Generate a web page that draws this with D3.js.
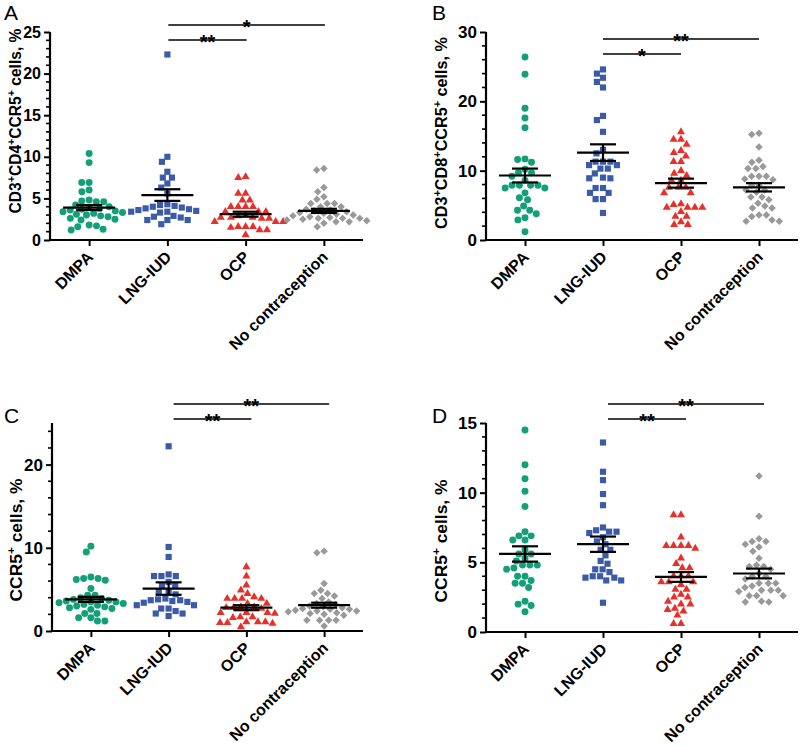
<!DOCTYPE html>
<html><head><meta charset="utf-8">
<script src="https://cdn.jsdelivr.net/npm/d3@7"></script>
<style>body{margin:0;background:#fff} text{font-family:"Liberation Sans",Arial,sans-serif}</style>
</head><body><svg id="c" width="800" height="746"></svg>
<script>
const categories = ["DMPA","LNG-IUD","OCP","No contraception"];
const colors = ["#13a079","#3b5aa8","#e8302a","#999999"];

// Panel A: CD3+CD4+CCR5+ cells, %
const valuesA = [
  [10.4,9.3,6.9,6.9,6.0,5.8,4.8,4.7,4.6,4.6,4.2,4.0,3.9,3.8,3.7,3.6,3.5,3.4,3.3,3.2,3.1,3.0,2.9,2.8,2.6,2.5,2.4,1.8,1.7,1.6,1.3,1.2],
  [22.3,10.0,9.4,8.2,7.5,7.5,6.8,6.3,5.6,4.3,4.2,4.1,4.0,3.9,3.8,3.7,3.6,3.5,3.4,3.4,3.3,2.9,2.8,2.7,2.4,2.4,2.4,1.9],
  [7.6,7.5,5.6,5.6,4.8,4.8,4.0,4.0,4.0,4.0,3.4,3.4,3.4,3.0,2.9,2.7,2.7,2.7,2.6,2.6,2.2,2.2,2.2,1.6,1.6,1.6,1.5,1.2,1.2,0.6],
  [8.6,8.4,6.3,5.8,5.2,4.9,4.4,4.4,4.4,4.0,4.0,3.7,3.6,3.5,3.4,3.3,3.2,3.1,3.0,2.9,2.8,2.7,2.6,2.6,2.6,2.5,2.4,2.3,2.2,2.2,2.0,1.6]
];
const meanA = [3.9,5.4,3.1,3.5];
const semA = [0.3,0.7,0.3,0.25];
const ticksA = [0,5,10,15,20,25];

// Panel B: CD3+CD8+CCR5+ cells, %
const valuesB = [
  [26.4,23.9,19.0,17.6,16.2,11.7,11.6,11.2,10.2,9.7,9.7,9.2,8.6,7.9,7.9,7.9,7.9,7.5,7.5,6.8,6.1,5.8,4.9,4.3,4.3,3.8,3.2,2.9,1.2],
  [24.6,24.0,23.4,22.8,22.0,17.9,17.3,15.6,13.0,12.5,11.3,11.3,11.3,10.8,10.8,10.3,10.3,9.6,9.0,8.9,8.9,7.5,7.5,6.8,6.8,5.9,5.9,3.9],
  [15.6,14.5,14.5,13.8,12.9,12.6,12.1,11.3,11.3,10.0,9.6,9.3,8.6,8.6,7.6,7.6,7.6,6.8,6.8,5.2,5.1,4.7,4.7,4.7,4.7,4.1,3.4,3.4,2.6,2.2,2.2],
  [15.4,15.2,13.4,11.5,11.2,10.6,10.3,10.3,9.2,9.2,9.2,8.8,8.7,7.9,7.9,7.2,7.2,6.9,6.2,6.2,5.8,5.3,4.9,4.6,4.6,3.6,3.6,3.4,2.9,2.7,2.7]
];
const meanB = [9.3,12.6,8.2,7.6];
const semB = [1.0,1.2,0.65,0.6];
const ticksB = [0,10,20,30];

// Panel C: CCR5+ cells, %
const valuesC = [
  [10.2,9.5,6.5,6.3,6.3,6.2,6.1,5.1,4.3,4.3,4.0,3.9,3.8,3.7,3.6,3.5,3.5,3.4,3.3,3.2,3.1,3.0,2.9,2.8,2.7,2.6,2.1,2.1,1.6,1.6,1.2,1.2],
  [22.2,10.1,8.9,6.8,6.6,6.6,6.6,5.9,5.5,5.5,4.7,4.7,4.4,3.9,3.8,3.7,3.7,3.6,3.5,3.4,3.1,3.1,2.7,2.7,2.4,2.1,2.1,1.8],
  [7.7,6.6,5.5,4.9,4.5,4.1,3.9,3.9,3.9,3.9,3.3,3.3,2.9,2.9,2.8,2.8,2.7,2.2,2.2,2.2,2.1,1.7,1.7,1.6,1.1,1.1,1.1,1.0,1.0,0.9,0.5],
  [9.6,9.4,5.7,4.9,4.5,4.5,4.2,3.9,3.5,3.3,3.2,3.0,2.9,2.8,2.7,2.6,2.6,2.5,2.4,2.4,2.3,2.2,2.1,2.0,1.9,1.3,1.3,1.3,1.3,0.6]
];
const meanC = [3.8,5.1,2.8,3.1];
const semC = [0.3,0.75,0.3,0.3];
const ticksC = [0,10,20];

// Panel D: CCR5+ cells, %
const valuesD = [
  [14.5,12.0,11.0,10.1,9.0,7.2,6.9,6.9,6.6,6.6,5.9,5.6,5.6,5.3,5.1,4.8,4.8,4.8,4.6,4.5,4.0,4.0,3.7,3.5,3.5,3.2,2.2,2.0,1.9,1.45],
  [13.6,11.5,10.9,9.9,9.1,7.5,7.3,7.2,7.2,7.1,6.8,6.5,6.3,5.9,5.9,5.5,5.1,4.9,4.5,4.5,4.3,4.0,4.0,3.9,3.9,3.7,3.7,2.1],
  [8.4,8.4,6.8,6.2,6.2,6.2,6.2,6.0,5.3,4.9,4.6,4.6,4.0,4.0,4.0,3.6,3.6,3.6,3.4,3.05,3.05,2.7,2.5,2.5,2.2,2.0,2.0,1.7,1.6,1.5,1.2,0.6,0.6],
  [11.2,8.3,6.7,6.5,6.5,6.3,6.1,5.8,5.3,4.8,4.7,4.7,4.5,4.2,4.0,4.0,3.8,3.5,3.5,3.5,3.3,3.2,3.0,3.0,3.0,2.9,2.6,2.6,2.6,2.2,2.15,2.15]
];
const meanD = [5.6,6.3,3.95,4.2];
const semD = [0.55,0.55,0.35,0.35];
const ticksD = [0,5,10,15];

// Significance brackets: [fromGroup, toGroup]
const sigPairs = [[1,2],[1,3]];
const sigLabelsA = ["**","*"];
const sigLabelsB = ["*","**"];
const sigLabelsC = ["**","**"];
const sigLabelsD = ["**","**"];

const titleA = [["CD3",0],["+",1],["CD4",0],["+",1],["CCR5",0],["+",1],[" cells, %",0]];
const titleB = [["CD3",0],["+",1],["CD8",0],["+",1],["CCR5",0],["+",1],[" cells, %",0]];
const titleCD = [["CCR5",0],["+",1],[" cells, %",0]];

const panels = [
  {letter:"A", vals:valuesA, mean:meanA, sem:semA, ticks:ticksA, minor:1, max:25, left:50, right:363, y0:240, yTop:32,
   lx:4, ly:20, title:titleA, tx:21, ty:121, tlen:185, kfs:16, sig:sigLabelsA, sigY:[40,25], sigOff:1},
  {letter:"B", vals:valuesB, mean:meanB, sem:semB, ticks:ticksB, minor:2, max:30, left:486, right:798, y0:240, yTop:32,
   lx:432, ly:20, title:titleB, tx:447, ty:133, tlen:192, kfs:17, sig:sigLabelsB, sigY:[54,39], sigOff:0},
  {letter:"C", vals:valuesC, mean:meanC, sem:semC, ticks:ticksC, minor:2, max:25, left:52, right:363, y0:631, yTop:423,
   lx:4, ly:423, title:titleCD, tx:22, ty:540, tlen:123, kfs:17, sig:sigLabelsC, sigY:[419,404], sigOff:5},
  {letter:"D", vals:valuesD, mean:meanD, sem:semD, ticks:ticksD, minor:1, max:15, left:486, right:798, y0:632, yTop:423,
   lx:432, ly:423, title:titleCD, tx:447, ty:541, tlen:123, kfs:17, sig:sigLabelsD, sigY:[419,404], sigOff:5}
];

const svg = d3.select("#c");
const symTypes = [d3.symbolCircle, d3.symbolSquare, d3.symbolTriangle, d3.symbolSquare];
const symSizes = [38, 38, 28, 28];
const symRot = [0, 0, 0, 45];

function swarm(vals, y, D) {
  const pts = vals.map(v => ({v, y: y(v)})).sort((a, b) => a.y - b.y);
  const placed = [];
  for (const p of pts) {
    const cands = [0];
    for (const q of placed) {
      const dy = Math.abs(q.y - p.y);
      if (dy < D) { const dx = Math.sqrt(D * D - dy * dy); cands.push(q.x + dx, q.x - dx); }
    }
    cands.sort((a, b) => Math.abs(a) - Math.abs(b) || a - b);
    for (const c of cands) {
      if (placed.every(q => (q.x - c) ** 2 + (q.y - p.y) ** 2 >= D * D - 0.01)) { p.x = c; break; }
    }
    placed.push(p);
  }
  return pts;
}

function buildTitle(t, parts, fs) {
  t.selectAll("*").remove();
  t.attr("font-size", fs);
  let prevSup = 0;
  parts.forEach(([txt, sup]) => {
    const ts = t.append("tspan").text(txt);
    if (sup) ts.attr("font-size", fs * 0.68);
    if (sup && !prevSup) ts.attr("dy", -fs * 0.4);
    else if (!sup && prevSup) ts.attr("dy", fs * 0.4);
    prevSup = sup;
  });
}

panels.forEach(P => {
  const g = svg.append("g");
  const y = d3.scaleLinear().domain([0, P.max]).range([P.y0, P.yTop]);
  const x = d3.scalePoint().domain(categories).range([P.left, P.right]).padding(0.5);

  // y axis
  const yAxis = d3.axisLeft(y).tickValues(P.ticks).tickSize(6).tickPadding(3).tickFormat(d3.format("d"));
  const ya = g.append("g").attr("transform", `translate(${P.left},0)`).call(yAxis);
  const minors = d3.range(0, P.max + 0.001, P.minor).filter(v => !P.ticks.includes(v));
  ya.selectAll(".minor").data(minors).enter().append("line").attr("class","minor")
    .attr("x1", 0).attr("x2", -4).attr("y1", d => y(d)).attr("y2", d => y(d))
    .attr("stroke", "#000").attr("stroke-width", 1.6);
  ya.select(".domain").attr("stroke-width", 2.2).attr("d", `M0,${P.y0}V${P.yTop}`);
  ya.selectAll(".tick line").attr("stroke-width", 2);
  ya.selectAll(".tick text").attr("font-size", P.kfs).attr("font-weight", "bold").attr("fill", "#000")
    .attr("font-family", "Liberation Sans, Arial, sans-serif");

  // x axis
  const xAxis = d3.axisBottom(x).tickSize(6).tickFormat("");
  const xa = g.append("g").attr("transform", `translate(0,${P.y0})`).call(xAxis);
  xa.select(".domain").attr("stroke-width", 2.2).attr("d", `M${P.left},0H${P.right}`);
  xa.selectAll(".tick line").attr("stroke-width", 2);
  g.selectAll(".xl").data(categories).enter().append("text").attr("class", "xl")
    .attr("transform", d => `translate(${x(d) + 5},${P.y0 + 18}) rotate(-45)`)
    .attr("text-anchor", "end").attr("font-size", 16).attr("font-weight", "bold").text(d => d);

  // points
  categories.forEach((c, i) => {
    const pts = swarm(P.vals[i], y, 7.4);
    const sym = d3.symbol().type(symTypes[i]).size(symSizes[i]);
    g.selectAll(".pt" + i).data(pts).enter().append("path")
      .attr("d", sym)
      .attr("transform", d => `translate(${x(c) + d.x},${d.y}) rotate(${symRot[i]})`)
      .attr("fill", colors[i]);
    const cx = x(c), m = P.mean[i], s = P.sem[i];
    const ln = (x1, y1, x2, y2) => g.append("line").attr("x1", x1).attr("y1", y1).attr("x2", x2).attr("y2", y2)
      .attr("stroke", "#000").attr("stroke-width", 2.2);
    ln(cx - 26, y(m), cx + 26, y(m));
    ln(cx, y(m - s), cx, y(m + s));
    ln(cx - 13, y(m + s), cx + 13, y(m + s));
    ln(cx - 13, y(m - s), cx + 13, y(m - s));
  });

  // significance
  sigPairs.forEach((pr, k) => {
    const x1 = x(categories[pr[0]]) + P.sigOff, x2 = x(categories[pr[1]]) + P.sigOff, yy = P.sigY[k];
    g.append("line").attr("x1", x1).attr("x2", x2).attr("y1", yy).attr("y2", yy)
      .attr("stroke", "#000").attr("stroke-width", 1.6);
    g.append("text").attr("x", (x1 + x2) / 2).attr("y", yy + 9).attr("text-anchor", "middle")
      .attr("font-size", 20).attr("font-weight", "bold").text(P.sig[k]);
  });

  // panel letter
  g.append("text").attr("x", P.lx).attr("y", P.ly).attr("font-size", 21).text(P.letter);

  // y title, fitted to the reference length
  const t = g.append("text").attr("transform", `translate(${P.tx},${P.ty}) rotate(-90)`)
    .attr("text-anchor", "middle").attr("font-weight", "bold");
  buildTitle(t, P.title, 16);
  const L = t.node().getComputedTextLength();
  const fs = Math.min(18, 16 * P.tlen / L);
  buildTitle(t, P.title, fs);
});
</script></body></html>
